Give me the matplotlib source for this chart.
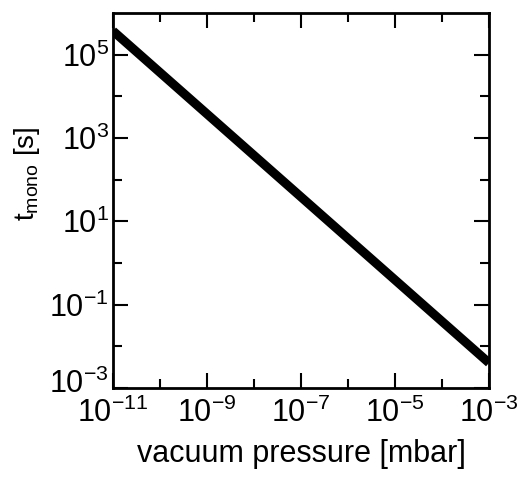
import numpy as np
import matplotlib
matplotlib.use("Agg")
import matplotlib.pyplot as plt
from matplotlib.ticker import FixedLocator, FuncFormatter, NullFormatter
from matplotlib.transforms import ScaledTranslation

plt.rcParams['font.family'] = ['Liberation Sans', 'DejaVu Sans']
plt.rcParams['mathtext.fontset'] = 'custom'
plt.rcParams['mathtext.rm'] = 'Liberation Sans'
plt.rcParams['mathtext.it'] = 'Liberation Sans'

# monolayer formation time vs. pressure
pressure = [1e-11, 1e-3]      # mbar
t_mono = [3.7e5, 4.0e-3]      # s

x_major = [1e-11, 1e-9, 1e-7, 1e-5, 1e-3]
x_minor = [1e-10, 1e-8, 1e-6, 1e-4]
y_major = [1e-3, 1e-1, 1e1, 1e3, 1e5]
y_minor = [1e-2, 1e0, 1e2, 1e4]

fig = plt.figure(figsize=(5.32, 4.87), dpi=100)
ax = fig.add_axes([0.2124, 0.2033, 0.7068, 0.7700])

ax.plot(pressure, t_mono, color="black", lw=6.5, solid_capstyle="butt")

ax.set_xscale("log")
ax.set_yscale("log")
ax.set_xlim(1e-11, 1e-3)
ax.set_ylim(1e-3, 1e6)

def fmt(v, pos):
    return r"$10^{%d}$" % int(round(np.log10(v)))

ax.xaxis.set_major_locator(FixedLocator(x_major))
ax.xaxis.set_minor_locator(FixedLocator(x_minor))
ax.yaxis.set_major_locator(FixedLocator(y_major))
ax.yaxis.set_minor_locator(FixedLocator(y_minor))
ax.xaxis.set_major_formatter(FuncFormatter(fmt))
ax.yaxis.set_major_formatter(FuncFormatter(fmt))
ax.xaxis.set_minor_formatter(NullFormatter())
ax.yaxis.set_minor_formatter(NullFormatter())

ax.tick_params(which="both", direction="in", top=True, right=True, width=1.5)
ax.tick_params(which="major", length=11, labelsize=22)
ax.tick_params(which="minor", length=6.5)
ax.tick_params(axis="x", which="major", pad=7)
ax.tick_params(axis="y", which="major", pad=3)
for s in ax.spines.values():
    s.set_linewidth(2)

ax.set_xlabel("vacuum pressure [mbar]", fontsize=22, labelpad=7)
ax.set_ylabel(r"t$_{\mathregular{mono}}$ [s]", fontsize=20)
ax.yaxis.set_label_coords(-0.19, 0.57)

# lift the bottom y label a little so it clears the 10^-11 label
fig.canvas.draw()
lab = ax.yaxis.get_major_ticks()[0].label1
lab.set_transform(lab.get_transform() + ScaledTranslation(0, 5 / 72, fig.dpi_scale_trans))

fig.savefig("out.png", dpi=100)
